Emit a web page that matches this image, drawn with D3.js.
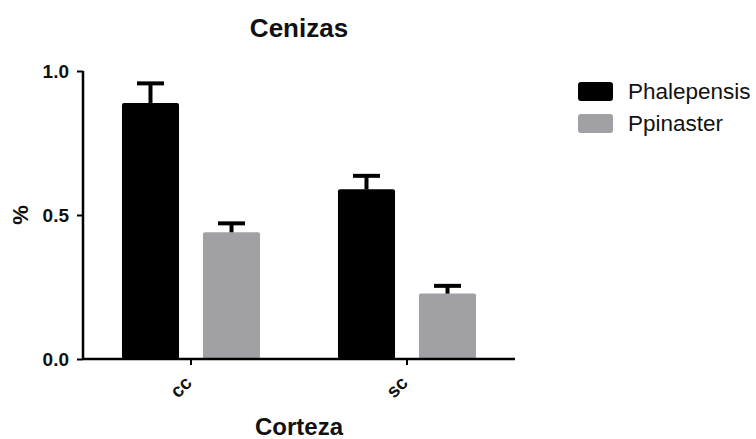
<!DOCTYPE html>
<html>
<head>
<meta charset="utf-8">
<script src="https://cdn.jsdelivr.net/npm/d3@7"></script>
<style>
  html, body { margin: 0; padding: 0; background: #fff; }
  svg { display: block; font-family: "Liberation Sans", Arial, Helvetica, sans-serif; }
</style>
</head>
<body>
<svg id="chart" width="756" height="439"></svg>
<script>
// Ash content (%) by bark treatment and pine species, mean + SEM
const categories = ["cc", "sc"];
const seriesNames = ["Phalepensis", "Ppinaster"];
const phalepensisMean = [0.889, 0.589];
const phalepensisErr = [0.068, 0.047];
const ppinasterMean = [0.440, 0.227];
const ppinasterErr = [0.031, 0.027];
const yTicks = [0.0, 0.5, 1.0];
const seriesColors = ["#000000", "#a1a1a5"];

const rows = categories.map((c, i) => ({
  cat: c,
  bars: [
    { name: seriesNames[0], mean: phalepensisMean[i], err: phalepensisErr[i] },
    { name: seriesNames[1], mean: ppinasterMean[i], err: ppinasterErr[i] }
  ]
}));

const svg = d3.select("#chart");
const plot = { left: 83, right: 515, top: 71, bottom: 359 };

const x0 = d3.scaleBand().domain(categories).range([plot.left, plot.right]).padding(0);
const x1 = d3.scaleBand().domain(seriesNames).range([0, x0.bandwidth()])
  .paddingInner(0.296).paddingOuter(0.481);
const y = d3.scaleLinear().domain([0, 1]).range([plot.bottom, plot.top]);
const color = d3.scaleOrdinal().domain(seriesNames).range(seriesColors);

// Title
svg.append("text")
  .attr("x", (plot.left + plot.right) / 2)
  .attr("y", 37)
  .attr("text-anchor", "middle")
  .attr("font-weight", "bold")
  .attr("font-size", 26)
  .attr("fill", "#111")
  .text("Cenizas");

// Bars and error bars
const groups = svg.append("g").selectAll("g")
  .data(rows).join("g")
  .attr("transform", d => `translate(${x0(d.cat)},0)`);

groups.selectAll("rect")
  .data(d => d.bars).join("rect")
  .attr("x", d => x1(d.name))
  .attr("y", d => y(d.mean))
  .attr("width", x1.bandwidth())
  .attr("height", d => y(0) - y(d.mean))
  .attr("rx", 2)
  .attr("fill", d => color(d.name));

const eb = groups.selectAll("g.err")
  .data(d => d.bars).join("g").attr("class", "err");
eb.append("line")
  .attr("x1", d => x1(d.name) + x1.bandwidth() / 2)
  .attr("x2", d => x1(d.name) + x1.bandwidth() / 2)
  .attr("y1", d => y(d.mean))
  .attr("y2", d => y(d.mean + d.err))
  .attr("stroke", "#000").attr("stroke-width", 4);
eb.append("line")
  .attr("x1", d => x1(d.name) + x1.bandwidth() / 2 - 13.5)
  .attr("x2", d => x1(d.name) + x1.bandwidth() / 2 + 13.5)
  .attr("y1", d => y(d.mean + d.err))
  .attr("y2", d => y(d.mean + d.err))
  .attr("stroke", "#000").attr("stroke-width", 4);

// Y axis
const yAxis = svg.append("g")
  .attr("transform", `translate(${plot.left},0)`)
  .call(d3.axisLeft(y).tickValues(yTicks).tickFormat(d3.format(".1f")).tickSize(6).tickPadding(8));
yAxis.select(".domain").attr("stroke", "#000").attr("stroke-width", 2.5)
  .attr("d", `M0,${plot.top}V${plot.bottom}`);
yAxis.selectAll(".tick line").attr("stroke", "#000").attr("stroke-width", 2);
yAxis.selectAll(".tick text")
  .attr("font-size", 19).attr("font-weight", "bold").attr("fill", "#111")
  .attr("font-family", "Liberation Sans, Arial, sans-serif");

// X axis
const xAxis = svg.append("g")
  .attr("transform", `translate(0,${plot.bottom})`)
  .call(d3.axisBottom(x0).tickSize(6).tickSizeOuter(0));
xAxis.select(".domain").attr("stroke", "#000").attr("stroke-width", 2.5)
  .attr("d", `M${plot.left},0H${plot.right}`);
xAxis.selectAll(".tick line").attr("stroke", "#000").attr("stroke-width", 2);
xAxis.selectAll(".tick text")
  .attr("font-size", 19).attr("font-weight", "bold").attr("fill", "#111")
  .attr("font-family", "Liberation Sans, Arial, sans-serif")
  .attr("text-anchor", "end")
  .attr("x", 0).attr("y", 0)
  .attr("dy", null)
  .attr("transform", "translate(2,25) rotate(-45)");

// Axis titles
svg.append("text")
  .attr("transform", `translate(28,${(plot.top + plot.bottom) / 2}) rotate(-90)`)
  .attr("text-anchor", "middle")
  .attr("font-weight", "bold").attr("font-size", 22).attr("fill", "#111")
  .text("%");

svg.append("text")
  .attr("x", (plot.left + plot.right) / 2)
  .attr("y", 435)
  .attr("text-anchor", "middle")
  .attr("font-weight", "bold").attr("font-size", 24).attr("fill", "#111")
  .text("Corteza");

// Legend
const legend = svg.append("g").attr("transform", "translate(578,82)");
const li = legend.selectAll("g").data(seriesNames).join("g")
  .attr("transform", (d, i) => `translate(0,${i * 32})`);
li.append("rect")
  .attr("width", 35).attr("height", 19).attr("rx", 3)
  .attr("fill", d => color(d));
li.append("text")
  .attr("x", 50).attr("y", 16.5)
  .attr("font-size", 22.5).attr("fill", "#111")
  .text(d => d);
</script>
</body>
</html>
